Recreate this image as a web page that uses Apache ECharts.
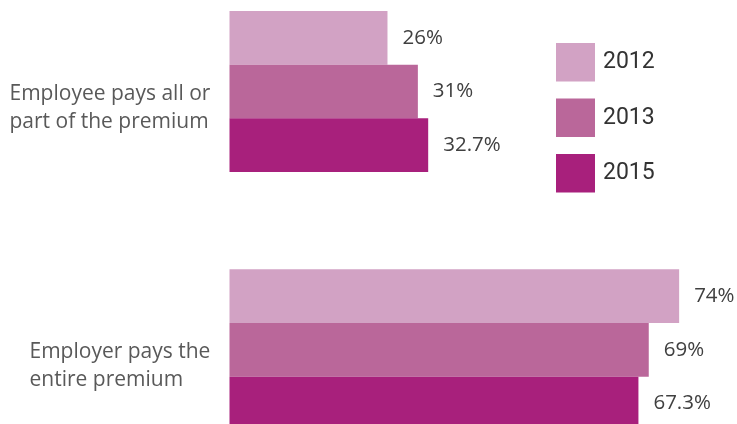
<!DOCTYPE html>
<html><head><meta charset="utf-8">
<script src="https://cdn.jsdelivr.net/npm/echarts@6/dist/echarts.min.js"></script>
<style>html,body{margin:0;padding:0;background:#fff}#c{width:737px;height:424px}</style>
</head><body><div id="c"></div>
<script>
const categories = ['Employee pays all or\npart of the premium', 'Employer pays the\nentire premium'];
const years = ['2012', '2013', '2015'];
const values2012 = [26, 74];
const values2013 = [31, 69];
const values2015 = [32.7, 67.3];
const labels2012 = ['26%', '74%'];
const labels2013 = ['31%', '69%'];
const labels2015 = ['32.7%', '67.3%'];

const colors = ['#D2A2C4', '#BA679A', '#A8207C'];
const seriesValues = [values2012, values2013, values2015];
const seriesLabels = [labels2012, labels2013, labels2015];
const catPads = [[0, 0, 0, 0], [0, 0, 0, 20]];

const chart = echarts.init(document.getElementById('c'), null, {renderer: 'canvas'});
chart.setOption({
  animation: false,
  color: colors,
  grid: {left: 229.5, right: 21.4, top: -37.65, height: 516.6, containLabel: false, outerBoundsMode: 'none'},
  xAxis: {type: 'value', min: 0, max: 80, show: false},
  yAxis: {
    type: 'category', inverse: true,
    data: categories.map((c, i) => ({value: c, textStyle: {padding: catPads[i], align: 'left'}})),
    axisLine: {show: false}, axisTick: {show: false},
    axisLabel: {
      align: 'left', margin: 220, color: '#595959',
      fontFamily: 'Open Sans', fontSize: 21, lineHeight: 28,
      formatter: v => '{gap| }\n' + v.split('\n').map(l => '{t|' + l + '}').join('\n'),
      rich: {
        gap: {fontSize: 4, lineHeight: 33},
        t: {fontFamily: 'Open Sans', fontSize: 21, lineHeight: 28, color: '#595959'}
      }
    }
  },
  legend: {
    orient: 'vertical', left: 551, top: 38, itemWidth: 39, itemHeight: 38.5, itemGap: 17,
    icon: 'rect', data: years,
    textStyle: {fontFamily: 'Roboto', fontSize: 23, color: '#333', padding: [0, 0, 0, 3]}
  },
  series: years.map((y, s) => ({
    name: y, type: 'bar', barWidth: 53.7, barGap: '0%',
    data: seriesValues[s],
    label: {
      show: true, position: 'right', distance: 15,
      formatter: p => seriesLabels[s][p.dataIndex],
      fontFamily: 'Open Sans', fontSize: 20.5, color: '#404040'
    }
  }))
});
</script></body></html>
